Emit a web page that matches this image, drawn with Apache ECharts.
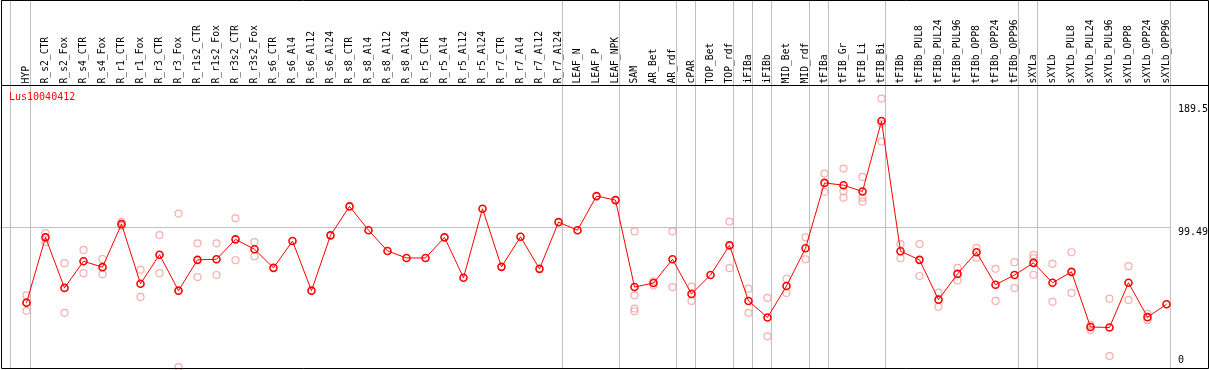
<!DOCTYPE html>
<html><head><meta charset="utf-8">
<script src="https://cdn.jsdelivr.net/npm/echarts@6/dist/echarts.min.js"></script>
<style>html,body{margin:0;padding:0;background:#fff}#c{width:1209px;height:370px}</style>
</head><body><div id="c"></div><script>
const geneName = 'Lus10040412';
const categories = ['HYP','R_s2_CTR','R_s2_Fox','R_s4_CTR','R_s4_Fox','R_r1_CTR','R_r1_Fox','R_r3_CTR','R_r3_Fox','R_r1s2_CTR','R_r1s2_Fox','R_r3s2_CTR','R_r3s2_Fox','R_s6_CTR','R_s6_Al4','R_s6_Al12','R_s6_Al24','R_s8_CTR','R_s8_Al4','R_s8_Al12','R_s8_Al24','R_r5_CTR','R_r5_Al4','R_r5_Al12','R_r5_Al24','R_r7_CTR','R_r7_Al4','R_r7_Al12','R_r7_Al24','LEAF_N','LEAF_P','LEAF_NPK','SAM','AR_Bet','AR_rdf','cPAR','TOP_Bet','TOP_rdf','iFIBa','iFIBb','MID_Bet','MID_rdf','tFIBa','tFIB_Gr','tFIB_Li','tFIB_Bi','tFIBb','tFIBb_PUL8','tFIBb_PUL24','tFIBb_PUL96','tFIBb_OPP8','tFIBb_OPP24','tFIBb_OPP96','sXYLa','sXYLb','sXYLb_PUL8','sXYLb_PUL24','sXYLb_PUL96','sXYLb_OPP8','sXYLb_OPP24','sXYLb_OPP96'];
const means = [46.9,92.6,57.3,75.9,71.8,101.8,60.2,80.5,55.4,76.9,77.3,91.2,84.3,71.3,90.0,55.4,94.0,114.2,97.6,83.1,78.2,78.2,92.6,64.4,112.6,72.0,93.0,70.6,103.2,97.6,121.4,118.6,57.9,60.7,77.3,53.1,66.3,87.0,48.2,36.7,58.6,85.0,130.6,129.0,124.6,173.8,82.9,76.9,49.1,67.1,82.2,59.5,66.3,74.8,60.9,68.5,30.0,29.7,60.9,36.9,45.9];
const replicates = [
 [52.1,47.3,41.3],[95.5,89.1],[74.6,39.9],[83.8,67.6],[77.5,66.9],[103.4,100.6],[69.9,51.0],[94.2,67.6],[109.2,2.0],[88.4,64.9],[88.4,66.3],[105.9,76.6],[89.3,79.4],
 [],[],[],[],[],[],[],[],[],[],[],[],[],[],[],[],[],[],[],
 [96.7,52.1,42.9,41.0],[61.8,59.0],[96.7,57.9],[58.2,48.2],[],[103.6,71.1],[56.8,39.9],[50.3,23.5],[63.7,53.8],[92.6,77.3],
 [137.1,124.4],[140.6,124.8,120.3],[134.8,120.3,117.5],[189.5,172.0,159.5],
 [87.9,78.0],[87.9,65.6],[54.0,44.1],[71.3,62.5],[85.2,78.4],[70.6,48.2],[75.3,57.2],
 [80.3,78.0,66.5],[74.1,47.6],[82.2,53.8],[31.3,27.9],[49.8,9.7],[72.5,48.9],[39.2,34.8],[]
];
const yTicks = [0, 99.49, 189.5];
const refLineValue = 99.49;
const groupEnds = [-1,0,28,31,34,35,37,38,39,41,42,45,52,53,60];

const FONT = '"DejaVu Sans Mono", monospace';
const repData = [];
replicates.forEach((arr, i) => arr.forEach(v => repData.push([i, v])));
const meanData = means.map((v, i) => [i, v]);

const chart = echarts.init(document.getElementById('c'), null, {renderer: 'canvas'});
chart.setOption({
  animation: false,
  backgroundColor: '#fff',
  grid: {left: 7.5, right: 23.5, top: 98.53, height: 273.64},
  xAxis: {type: 'value', position: 'top', min: -1, max: 61, interval: 1,
     axisLine: {show: false}, axisTick: {show: false}, splitLine: {show: false},
     axisLabel: {rotate: 90, margin: 15, fontFamily: FONT, fontSize: 9.7, color: '#000',
       formatter: v => categories[Math.round(v)] || ''}},
  yAxis: {type: 'value', min: 0, max: 189.5, show: false},
  series: [
    {type: 'scatter', data: repData, symbol: 'circle', symbolSize: 7, z: 101,
     itemStyle: {color: 'rgba(0,0,0,0)', borderColor: '#f29a9a', borderWidth: 1.2}, silent: true},
    {type: 'line', data: meanData, symbol: 'circle', symbolSize: 7, showSymbol: true, z: 102,
     itemStyle: {color: 'rgba(255,0,0,0)', borderColor: '#ff0000', borderWidth: 1.6},
     lineStyle: {color: '#ff0000', width: 1}, silent: true}
  ]
});

const yPix = v => chart.convertToPixel({xAxisIndex: 0, yAxisIndex: 0}, [0, v])[1];
const xPix = i => chart.convertToPixel({xAxisIndex: 0, yAxisIndex: 0}, [i, 0])[0];
const refY = Math.floor(yPix(refLineValue)) + 0.5;
const groupX = groupEnds.map((b, k) => Math.floor(xPix(b + 4/19)) + 0.5 - (k === 0 ? 1 : 0));
const tickNudge = {0: -9.7, 1: 4.5, 2: 10.5};
const graphics = [];
groupX.forEach(x => graphics.push({type: 'line', silent: true, z: 100, shape: {x1: x, y1: 0, x2: x, y2: 369}, style: {stroke: '#c0c0c0', lineWidth: 1}}));
graphics.push(
  {type: 'line', silent: true, z: 100, shape: {x1: 0, y1: refY, x2: groupX[groupX.length - 1], y2: refY}, style: {stroke: '#c0c0c0', lineWidth: 1}},
  {type: 'rect', silent: true, z: 110, shape: {x: 1.5, y: 0.5, width: 1207, height: 368}, style: {stroke: '#000', fill: null, lineWidth: 1}},
  {type: 'line', silent: true, z: 110, shape: {x1: 1.5, y1: 85.5, x2: 1208.5, y2: 85.5}, style: {stroke: '#000', lineWidth: 1}},
  {type: 'text', silent: true, z: 110, style: {text: geneName, x: 9, y: 97.5, fill: '#ff0000', font: '10px ' + FONT, textAlign: 'left', textVerticalAlign: 'middle'}}
);
yTicks.forEach((t, k) => {
  graphics.push({type: 'text', silent: true, z: 110, style: {text: String(t), x: 1178, y: yPix(t) + tickNudge[k], fill: '#000', font: '10px ' + FONT, textAlign: 'left', textVerticalAlign: 'middle'}});
});
chart.setOption({graphic: graphics});
</script></body></html>
